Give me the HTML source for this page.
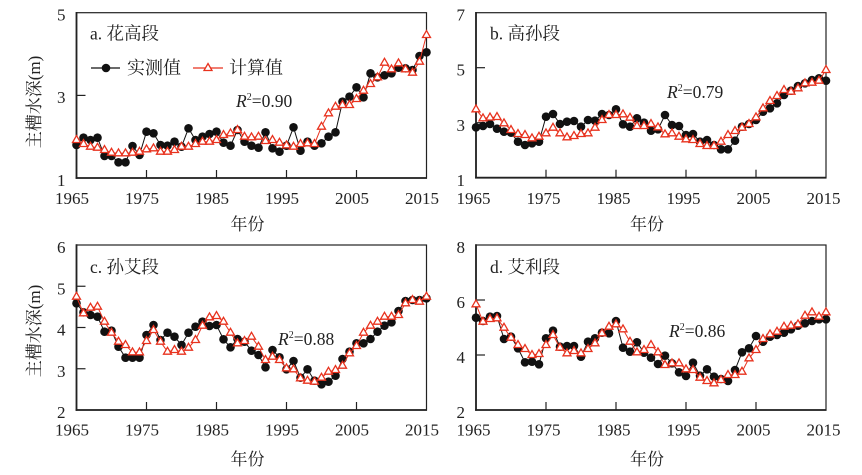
<!DOCTYPE html>
<html><head><meta charset="utf-8"><style>
html,body{margin:0;padding:0;background:#fff;}
svg{display:block;}
text{font-family:"Liberation Serif","Noto Serif CJK SC",serif;fill:#222;}
.t{font-size:17px;}
</style></head><body>
<svg width="862" height="475" viewBox="0 0 862 475" xmlns="http://www.w3.org/2000/svg">
<defs>
<marker id="mc" markerUnits="userSpaceOnUse" markerWidth="12" markerHeight="12" refX="6" refY="6" overflow="visible"><circle cx="6" cy="6" r="4.3" fill="#111"/></marker>
<marker id="mt" markerUnits="userSpaceOnUse" markerWidth="12" markerHeight="12" refX="6" refY="6" overflow="visible"><path d="M6,1.6 L10,8.5 L2,8.5Z" fill="#fff" stroke="#e8321e" stroke-width="1.3"/></marker>
</defs>

<!-- Panel a -->
<g>
<rect x="76.5" y="12.7" width="350" height="165.3" fill="none" stroke="#222" stroke-width="1.2"/>
<line x1="76.5" y1="12" x2="76.5" y2="178.8" stroke="#222" stroke-width="1.8"/>
<line x1="75.6" y1="178" x2="427" y2="178" stroke="#222" stroke-width="1.8"/>
<line x1="76.5" y1="95.4" x2="85.5" y2="95.4" stroke="#222" stroke-width="1.2"/>
<g stroke="#222" stroke-width="1.2"><line x1="146.5" y1="178" x2="146.5" y2="170"/><line x1="216.5" y1="178" x2="216.5" y2="170"/><line x1="286.5" y1="178" x2="286.5" y2="170"/><line x1="356.5" y1="178" x2="356.5" y2="170"/></g>
<g class="t" text-anchor="end"><text x="65.5" y="20.5">5</text><text x="65.5" y="103">3</text><text x="65.5" y="186">1</text></g>
<g class="t" text-anchor="middle"><text x="72" y="204">1965</text><text x="142" y="204">1975</text><text x="212" y="204">1985</text><text x="282" y="204">1995</text><text x="352" y="204">2005</text><text x="422" y="204">2015</text></g>
<text x="247.5" y="230" font-size="17" text-anchor="middle">年份</text>
<text transform="translate(40,102) rotate(-90)" font-size="17" text-anchor="middle">主槽水深(m)</text>
<text x="90" y="39.5" font-size="17.5">a. 花高段</text>
<line x1="91" y1="68" x2="120" y2="68" stroke="#111" stroke-width="1.2"/><circle cx="106" cy="68" r="4.3" fill="#111"/>
<text x="127" y="74" font-size="18">实测值</text>
<line x1="193" y1="68" x2="223" y2="68" stroke="#e8321e" stroke-width="1.2"/><path d="M208,63.5 L212,70.5 L204,70.5Z" fill="#fff" stroke="#e8321e" stroke-width="1.3"/>
<text x="229" y="74" font-size="18">计算值</text>
<text x="236" y="107" font-size="17.5"><tspan font-style="italic">R</tspan><tspan font-size="10" dy="-7">2</tspan><tspan dy="7">=0.90</tspan></text>
<g transform="translate(76.5,0)">
<polyline fill="none" stroke="#111" stroke-width="1" marker-start="url(#mc)" marker-mid="url(#mc)" marker-end="url(#mc)" points="0,145 7,137.7 14,140 21,137.7 28,156 35,156 42,162.3 49,162.3 56,146 63,155 70,131.7 77,133.3 84,145 91,145.7 98,141.7 105,146.7 112,128.3 119,140 126,136.7 133,134 140,131.7 147,142.7 154,145.7 161,130 168,141.7 175,145.7 182,147.7 189,132.3 196,148.3 203,151.7 210,145.7 217,127.3 224,150.7 231,141.7 238,145.7 245,143.3 252,136.7 259,132.3 266,101.7 273,96.7 280,87.3 287,97.3 294,73.3 301,77.3 308,75.3 315,73.3 322,67.7 329,68.3 336,70 343,56 350,52.3"/>
<polyline fill="none" stroke="#e8321e" stroke-width="1" marker-start="url(#mt)" marker-mid="url(#mt)" marker-end="url(#mt)" points="0,140 7,144 14,146.7 21,147.7 28,150 35,152.7 42,153.3 49,153.3 56,152.7 63,151.7 70,149.3 77,148.3 84,151.7 91,151.7 98,150 105,146.7 112,146.7 119,144 126,141.7 133,141.7 140,140 147,135 154,133.3 161,130 168,136.7 175,137.3 182,136.7 189,141 196,140 203,142.7 210,145.3 217,146.7 224,144 231,143.3 238,144 245,126.7 252,113.3 259,106.7 266,105 273,105 280,99 287,90.7 294,84 301,77.3 308,62.7 315,69.3 322,63.3 329,69.3 336,72.7 343,61.7 350,35"/>
</g>
</g>

<!-- Panel b -->
<g>
<rect x="476" y="12.7" width="350" height="165" fill="none" stroke="#222" stroke-width="1.2"/>
<line x1="476" y1="12" x2="476" y2="178.5" stroke="#222" stroke-width="1.8"/>
<line x1="475.1" y1="177.7" x2="826.5" y2="177.7" stroke="#222" stroke-width="1.8"/>
<g stroke="#222" stroke-width="1.2"><line x1="476" y1="67.7" x2="485" y2="67.7"/><line x1="476" y1="122.7" x2="485" y2="122.7"/>
<line x1="546" y1="177.7" x2="546" y2="169.7"/><line x1="616" y1="177.7" x2="616" y2="169.7"/><line x1="686" y1="177.7" x2="686" y2="169.7"/><line x1="756" y1="177.7" x2="756" y2="169.7"/></g>
<g class="t" text-anchor="end"><text x="465" y="20.5">7</text><text x="465" y="75.5">5</text><text x="465" y="131">3</text><text x="465" y="186">1</text></g>
<g class="t" text-anchor="middle"><text x="473.5" y="204">1965</text><text x="543.5" y="204">1975</text><text x="613.5" y="204">1985</text><text x="683.5" y="204">1995</text><text x="753.5" y="204">2005</text><text x="823.5" y="204">2015</text></g>
<text x="647" y="230" font-size="17" text-anchor="middle">年份</text>
<text x="490" y="39.5" font-size="17.5">b. 高孙段</text>
<text x="667" y="98" font-size="17.5"><tspan font-style="italic">R</tspan><tspan font-size="10" dy="-7">2</tspan><tspan dy="7">=0.79</tspan></text>
<g transform="translate(476,0)">
<polyline fill="none" stroke="#111" stroke-width="1" marker-start="url(#mc)" marker-mid="url(#mc)" marker-end="url(#mc)" points="0,127.3 7,126 14,124 21,128.7 28,131.7 35,132.7 42,141.7 49,145 56,143.3 63,141.7 70,116.7 77,114 84,124 91,121.7 98,121 105,126.7 112,120 119,120.7 126,114 133,115 140,109.3 147,124.3 154,126.7 161,118.3 168,122.7 175,130.7 182,129.3 189,115 196,125 203,126 210,135 217,134 224,141.7 231,140 238,145 245,149.3 252,149.3 259,140.7 266,126.7 273,124 280,120 287,111.7 294,108.3 301,103.3 308,95 315,90.7 322,86 329,83.3 336,80 343,78.3 350,80.7"/>
<polyline fill="none" stroke="#e8321e" stroke-width="1" marker-start="url(#mt)" marker-mid="url(#mt)" marker-end="url(#mt)" points="0,109.3 7,118.3 14,117.5 21,117 28,123.3 35,130 42,134 49,135 56,138.3 63,136.7 70,133.3 77,127.7 84,133.3 91,137.3 98,136 105,134 112,133.3 119,127.7 126,120 133,115 140,115 147,114.3 154,117.7 161,126 168,126 175,124 182,127.3 189,134.3 196,133.3 203,136.7 210,139.3 217,140 224,144 231,146 238,146 245,141.7 252,135 259,131 266,127.7 273,124 280,117.3 287,108.3 294,101 301,96 308,90 315,91.7 322,88.3 329,83.3 336,82.7 343,80.7 350,70"/>
</g>
</g>

<!-- Panel c -->
<g>
<rect x="76.5" y="245" width="350" height="165" fill="none" stroke="#222" stroke-width="1.2"/>
<line x1="76.5" y1="244.3" x2="76.5" y2="410.8" stroke="#222" stroke-width="1.8"/>
<line x1="75.6" y1="410" x2="427" y2="410" stroke="#222" stroke-width="1.8"/>
<g stroke="#222" stroke-width="1.2"><line x1="76.5" y1="286.25" x2="85.5" y2="286.25"/><line x1="76.5" y1="327.5" x2="85.5" y2="327.5"/><line x1="76.5" y1="368.75" x2="85.5" y2="368.75"/>
<line x1="146.5" y1="410" x2="146.5" y2="402"/><line x1="216.5" y1="410" x2="216.5" y2="402"/><line x1="286.5" y1="410" x2="286.5" y2="402"/><line x1="356.5" y1="410" x2="356.5" y2="402"/></g>
<g class="t" text-anchor="end"><text x="65.5" y="253">6</text><text x="65.5" y="294.5">5</text><text x="65.5" y="335.5">4</text><text x="65.5" y="377">3</text><text x="65.5" y="418">2</text></g>
<g class="t" text-anchor="middle"><text x="72" y="435.5">1965</text><text x="142" y="435.5">1975</text><text x="212" y="435.5">1985</text><text x="282" y="435.5">1995</text><text x="352" y="435.5">2005</text><text x="422" y="435.5">2015</text></g>
<text x="247.5" y="465" font-size="17" text-anchor="middle">年份</text>
<text transform="translate(40,331) rotate(-90)" font-size="17" text-anchor="middle">主槽水深(m)</text>
<text x="90" y="273" font-size="17.5">c. 孙艾段</text>
<text x="278" y="345" font-size="17.5"><tspan font-style="italic">R</tspan><tspan font-size="10" dy="-7">2</tspan><tspan dy="7">=0.88</tspan></text>
<g transform="translate(76.5,235)">
<polyline fill="none" stroke="#111" stroke-width="1" marker-start="url(#mc)" marker-mid="url(#mc)" marker-end="url(#mc)" points="0,68.3 7,77.3 14,80 21,81.7 28,96.7 35,95.7 42,111.7 49,122.7 56,122.7 63,122.7 70,100 77,90 84,105 91,97.7 98,101.7 105,110 112,97.7 119,91.7 126,86.7 133,91 140,90 147,104.3 154,112.3 161,104 168,106.7 175,115.7 182,120 189,132.3 196,115 203,122.3 210,134.3 217,126 224,142.7 231,134.3 238,145.7 245,149.3 252,146.7 259,140.7 266,124 273,116.7 280,108.3 287,108.3 294,104 301,96.7 308,90.7 315,87.3 322,76 329,66 336,65 343,65 350,63.3"/>
<polyline fill="none" stroke="#e8321e" stroke-width="1" marker-start="url(#mt)" marker-mid="url(#mt)" marker-end="url(#mt)" points="0,61.7 7,78.3 14,72.7 21,71.7 28,86.7 35,97.7 42,106.7 49,110 56,117.3 63,117.3 70,106 77,95 84,106.7 91,116.7 98,115 105,116.7 112,112.7 119,105 126,90.7 133,82.3 140,81 147,86.7 154,97.7 161,108.3 168,106 175,101.7 182,111.7 189,125 196,121.7 203,125 210,133.3 217,134.3 224,143.3 231,145.7 238,146.7 245,142.7 252,136.7 259,135 266,130.7 273,118.3 280,111 287,97.7 294,90.7 301,86.7 308,81.7 315,81.7 322,80 329,68.3 336,65 343,66.7 350,61.7"/>
</g>
</g>

<!-- Panel d -->
<g>
<rect x="476" y="245" width="350" height="165" fill="none" stroke="#222" stroke-width="1.2"/>
<line x1="476" y1="244.3" x2="476" y2="410.8" stroke="#222" stroke-width="1.8"/>
<line x1="475.1" y1="410" x2="826.5" y2="410" stroke="#222" stroke-width="1.8"/>
<g stroke="#222" stroke-width="1.2"><line x1="476" y1="300" x2="485" y2="300"/><line x1="476" y1="355" x2="485" y2="355"/>
<line x1="546" y1="410" x2="546" y2="402"/><line x1="616" y1="410" x2="616" y2="402"/><line x1="686" y1="410" x2="686" y2="402"/><line x1="756" y1="410" x2="756" y2="402"/></g>
<g class="t" text-anchor="end"><text x="465" y="253">8</text><text x="465" y="308">6</text><text x="465" y="363">4</text><text x="465" y="418">2</text></g>
<g class="t" text-anchor="middle"><text x="473.5" y="435.5">1965</text><text x="543.5" y="435.5">1975</text><text x="613.5" y="435.5">1985</text><text x="683.5" y="435.5">1995</text><text x="753.5" y="435.5">2005</text><text x="823.5" y="435.5">2015</text></g>
<text x="647" y="465" font-size="17" text-anchor="middle">年份</text>
<text x="490" y="273" font-size="17.5">d. 艾利段</text>
<text x="669" y="337" font-size="17.5"><tspan font-style="italic">R</tspan><tspan font-size="10" dy="-7">2</tspan><tspan dy="7">=0.86</tspan></text>
<g transform="translate(476,235)">
<polyline fill="none" stroke="#111" stroke-width="1" marker-start="url(#mc)" marker-mid="url(#mc)" marker-end="url(#mc)" points="0,82.7 7,86 14,81.7 21,81 28,104 35,101.7 42,113.3 49,127.3 56,126.7 63,129.3 70,103.3 77,95.7 84,111.7 91,111 98,111 105,121.7 112,106.7 119,103.3 126,97.7 133,98.3 140,86 147,112.7 154,116.7 161,107.3 168,117.7 175,122.7 182,129 189,120.7 196,128.3 203,137.3 210,141 217,127.7 224,140.7 231,134.3 238,141.7 245,144 252,146 259,135 266,117.3 273,113.3 280,101 287,106.7 294,101.7 301,100 308,97.7 315,94.3 322,90.7 329,88.3 336,86 343,84.3 350,84.3"/>
<polyline fill="none" stroke="#e8321e" stroke-width="1" marker-start="url(#mt)" marker-mid="url(#mt)" marker-end="url(#mt)" points="0,69.3 7,86.7 14,84 21,83.3 28,92.7 35,102.7 42,110 49,114 56,120 63,119 70,110 77,100 84,112.7 91,118.3 98,116 105,118.3 112,114 119,108.3 126,98.3 133,91.7 140,89.3 147,94.3 154,106.7 161,117.3 168,115 175,110 182,117.3 189,130 196,128.3 203,128.3 210,134.3 217,135 224,142.7 231,146 238,148.3 245,145 252,140 259,140 266,136.7 273,123.3 280,115 287,104 294,99.3 301,96.7 308,91.7 315,90.7 322,89.3 329,80.7 336,77.3 343,81.7 350,77.3"/>
</g>
</g>
</svg>
</body></html>
